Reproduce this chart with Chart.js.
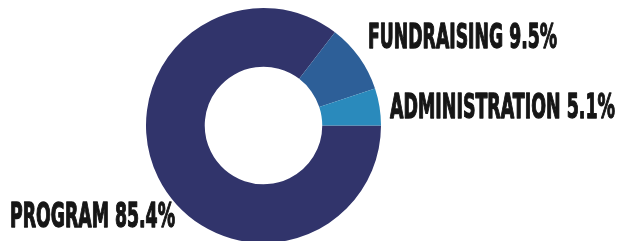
<!DOCTYPE html>
<html>
<head>
<meta charset="utf-8">
<script src="https://cdn.jsdelivr.net/npm/chart.js@4"></script>
<style>
html,body{margin:0;padding:0;background:#fff;overflow:hidden;}
#wrap{position:relative;width:618px;height:243px;}
</style>
</head>
<body>
<div id="wrap"><canvas id="c"></canvas></div>
<script>
const categories = ['PROGRAM', 'FUNDRAISING', 'ADMINISTRATION'];
const values = [85.4, 9.5, 5.1];
const colors = ['#31346b', '#2d5f98', '#2a8abc'];

// label placement: [left x, baseline y, target width]
const labelBoxes = [
  [10, 227, 165],
  [368, 48, 189],
  [390, 118, 225]
];

const labelPlugin = {
  id: 'sideLabels',
  afterDraw(chart) {
    const ctx = chart.ctx;
    ctx.save();
    ctx.fillStyle = '#161616';
    ctx.strokeStyle = '#161616';
    ctx.lineJoin = 'round';
    ctx.textBaseline = 'alphabetic';
    ctx.textAlign = 'left';
    ctx.font = 'bold 33px "Liberation Sans Narrow", "DejaVu Sans Condensed", sans-serif';
    categories.forEach((cat, i) => {
      const txt = cat + ' ' + values[i].toFixed(1) + '%';
      const [x, y, w] = labelBoxes[i];
      const m = ctx.measureText(txt).width;
      ctx.save();
      ctx.translate(x, y);
      ctx.scale(w / m, 1.04);
      ctx.lineWidth = 1.3;
      ctx.fillText(txt, 0, 0);
      ctx.strokeText(txt, 0, 0);
      ctx.restore();
    });
    ctx.restore();
  }
};

new Chart(document.getElementById('c'), {
  type: 'doughnut',
  data: {
    labels: categories,
    datasets: [{
      data: values,
      backgroundColor: colors,
      borderWidth: 0
    }]
  },
  options: {
    responsive: true,
    maintainAspectRatio: false,
    animation: false,
    rotation: 90,
    cutout: '50%',
    layout: { padding: { left: 146, right: 237, top: 8, bottom: 0 } },
    plugins: { legend: { display: false }, tooltip: { enabled: false } }
  },
  plugins: [labelPlugin]
});
</script>
</body>
</html>
